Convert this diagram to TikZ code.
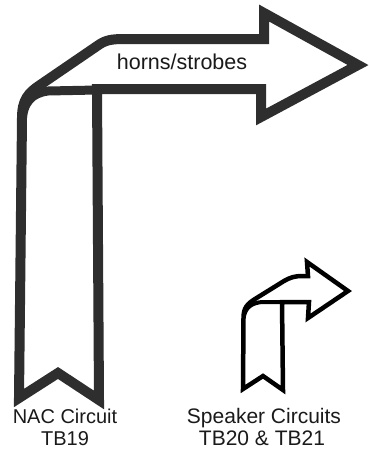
\documentclass[tikz,border=0pt]{standalone}
\usepackage{fontspec}
\setmainfont{Liberation Sans}
\definecolor{bigline}{HTML}{2E2E2E}
\definecolor{txt}{HTML}{1A1A1A}
\tikzset{
  bigarrow/.style={draw=bigline, line width=10pt, line join=miter, miter limit=10, fill=white},
  smallarrow/.style={draw=black, line width=4.5pt, line join=miter, miter limit=10, fill=white},
  lbl/.style={text=txt, align=center, inner sep=0pt}
}
\begin{document}
\begin{tikzpicture}[x=1pt,y=-1pt]
\useasboundingbox (0,0) rectangle (369,455);
% big arrow
\draw[bigarrow] (19,398) -- (22,118) .. controls (22,100) and (28,93) .. (40,85) -- (100,44) .. controls (108,39) and (115,39) .. (130,39) -- (264,39) -- (264,13) -- (358,65) -- (261,117) -- (261,89) -- (97,89) -- (99,400) -- (58,373) -- cycle;
\draw[draw=bigline, line width=9pt] (97,90) -- (48,91) .. controls (32,93) and (23,102) .. (22,122);
% small arrow
\draw[smallarrow] (243,389) -- (243.5,318) .. controls (243.5,308) and (247,304) .. (255,299) -- (284,281) .. controls (290,277.5) and (295,276) .. (302,276) -- (308,276) -- (307,262) -- (348,291) -- (308,318) -- (309,302) -- (282,302) -- (283,390) -- (263,376) -- cycle;
\draw[draw=black, line width=4pt] (282,302) -- (262,302) .. controls (252,303) and (246,307) .. (244,316);
% labels
\node[lbl, font=\fontsize{21.5}{24}\selectfont] (horns) at (182,62) {horns/strobes};
\node[lbl, font=\fontsize{20}{22}\selectfont, anchor=base] (nac1) at (65,423) {NAC Circuit};
\node[lbl, font=\fontsize{20}{22}\selectfont, anchor=base] (nac2) at (65,445) {TB19};
\node[lbl, font=\fontsize{21}{22}\selectfont, anchor=base] (spk1) at (264,423) {Speaker Circuits};
\node[lbl, font=\fontsize{21}{22}\selectfont, anchor=base] (spk2) at (262,445) {TB20 \& TB21};
\end{tikzpicture}
\end{document}
